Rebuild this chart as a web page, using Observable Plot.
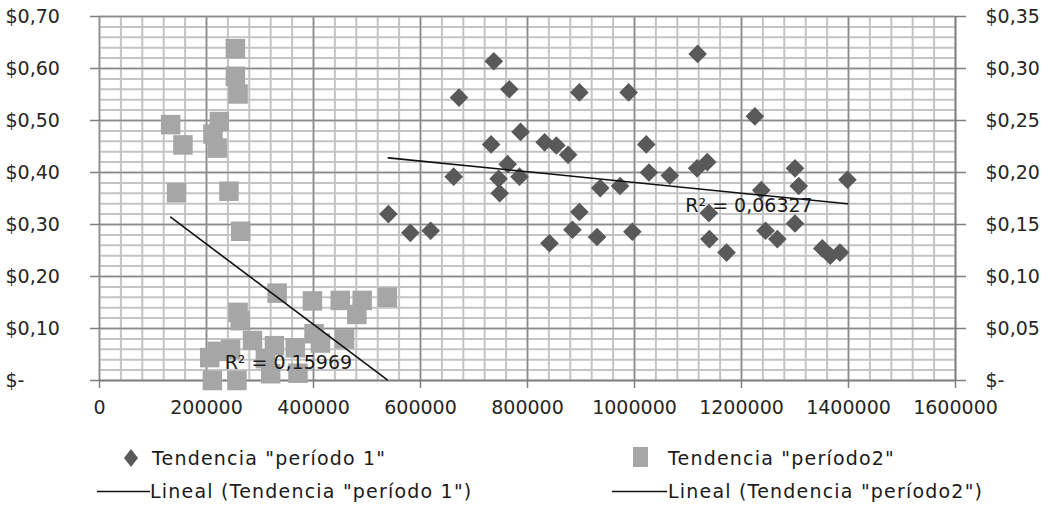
<!DOCTYPE html>
<html><head><meta charset="utf-8">
<script src="https://cdn.jsdelivr.net/npm/d3@7"></script>
<script src="https://cdn.jsdelivr.net/npm/@observablehq/plot@0.6"></script>
<style>
body{margin:0;background:#fff;font-family:"DejaVu Sans",sans-serif;}
#chart{position:relative;width:1055px;height:507px;overflow:hidden;}
.leg{position:absolute;font-size:19px;letter-spacing:1.2px;color:#1a1a1a;white-space:nowrap;line-height:20px;}
.sw{position:absolute;line-height:0;}
.sw svg{display:block;}
</style></head><body><div id="chart"></div>
<script>
// ---- data ----
// Series 1 "período 1" (diamonds, plotted against the right/secondary axis)
const p1X = [540000,581000,619000,662000,672000,737000,732000,746000,748000,763000,766000,785000,787000,832000,841000,854000,876000,884000,897000,897000,930000,936000,973000,989000,996000,1022000,1027000,1066000,1117000,1136000,1118000,1139000,1140000,1172000,1225000,1237000,1245000,1267000,1300000,1307000,1300000,1351000,1366000,1384000,1398000];
const p1Y = [0.160,0.142,0.144,0.196,0.272,0.307,0.227,0.194,0.180,0.208,0.280,0.196,0.239,0.229,0.132,0.226,0.217,0.145,0.162,0.277,0.138,0.185,0.187,0.277,0.143,0.227,0.200,0.197,0.204,0.210,0.314,0.161,0.136,0.123,0.254,0.183,0.144,0.136,0.204,0.187,0.151,0.127,0.120,0.123,0.193];
// Series 2 "período2" (squares, plotted against the left/primary axis)
const p2X = [254000,254000,259000,133000,156000,224000,212000,220000,144000,242000,264000,332000,398000,450000,491000,538000,481000,259000,263000,401000,413000,458000,220000,245000,286000,327000,366000,211000,257000,320000,371000,310000,206000];
const p2Y = [0.638,0.585,0.551,0.492,0.453,0.498,0.474,0.447,0.361,0.364,0.287,0.168,0.153,0.154,0.154,0.160,0.127,0.131,0.115,0.090,0.072,0.080,0.056,0.060,0.077,0.067,0.063,0,0,0.013,0.014,0.042,0.044];
// Linear trend lines (endpoints)
const trend1X = [540000,1398000];
const trend1Y = [0.2141,0.1699];   // right-axis units
const trend2X = [133000,538000];
const trend2Y = [0.314,0.0013];    // left-axis units
// R² annotations
const r2Text = ["R² = 0,06327","R² = 0,15969"];
const r2X = [1214000,353000];
const r2Y = [0.3356,0.0337];       // left-axis units
// ticks
const xTicks = [0,200000,400000,600000,800000,1000000,1200000,1400000,1600000];
const xTickLabels = ["0","200000","400000","600000","800000","1000000","1200000","1400000","1600000"];
const yTicks = [0,0.1,0.2,0.3,0.4,0.5,0.6,0.7];
const leftTickLabels = ["$-","$0,10","$0,20","$0,30","$0,40","$0,50","$0,60","$0,70"];
const rightTickLabels = ["$-","$0,05","$0,10","$0,15","$0,20","$0,25","$0,30","$0,35"];
const legendLabels = ['Tendencia "período 1"','Tendencia "período2"','Lineal (Tendencia "período 1")','Lineal (Tendencia "período2")'];

// ---- build tables ----
const s1 = p1X.map((x,i)=>({x, y:p1Y[i]}));
const s2 = p2X.map((x,i)=>({x, y:p2Y[i]}));
const t1 = trend1X.map((x,i)=>({x, y:trend1Y[i]}));
const t2 = trend2X.map((x,i)=>({x, y:trend2Y[i]}));
const r2 = r2Text.map((t,i)=>({t, x:r2X[i], y:r2Y[i]}));
const xLab = new Map(xTicks.map((d,i)=>[d,xTickLabels[i]]));
const lLab = new Map(yTicks.map((d,i)=>[d,leftTickLabels[i]]));
const rLab = new Map(yTicks.map((d,i)=>[d,rightTickLabels[i]]));
const xMinor = d3.range(0,1600001,40000);
const yMinor = d3.range(0,36).map(i=>i*0.02);
const RATIO = 2; // secondary axis max 0.35 vs primary 0.70

const minor = "#c4c4c4", major = "#8c8c8c", axisC = "#7f7f7f";

const chart = Plot.plot({
  width:1055, height:430,
  marginLeft:99, marginRight:100, marginTop:16, marginBottom:50,
  x:{domain:[0,1600000]},
  y:{domain:[0,0.7]},
  style:{fontFamily:"DejaVu Sans, sans-serif", fontSize:"19px", color:"#262626", background:"white", overflow:"visible"},
  marks:[
    Plot.gridX(xMinor,{stroke:minor, strokeWidth:2, strokeOpacity:1}),
    Plot.gridY(yMinor,{stroke:minor, strokeWidth:2, strokeOpacity:1}),
    Plot.gridX(xTicks,{stroke:major, strokeWidth:1.5, strokeOpacity:1}),
    Plot.gridY(yTicks,{stroke:major, strokeWidth:1.5, strokeOpacity:1}),
    Plot.ruleY([0],{stroke:axisC, strokeWidth:1.5}),
    Plot.ruleX([1600000],{stroke:axisC, strokeWidth:1.5}),
    Plot.axisX({ticks:xTicks, tickFormat:d=>xLab.get(d), tickSize:8, tickPadding:12, stroke:axisC, strokeWidth:1.5, fill:"#262626", label:null}),
    Plot.axisY({anchor:"left", ticks:yTicks, tickFormat:d=>lLab.get(d), tickSize:9, tickPadding:85, textAnchor:"start", stroke:axisC, strokeWidth:1.5, fill:"#262626", label:null}),
    Plot.axisY({anchor:"right", ticks:yTicks, tickFormat:d=>rLab.get(d), tickSize:10, tickPadding:20, stroke:axisC, strokeWidth:1.5, fill:"#262626", label:null}),
    Plot.dot(s2,{x:"x", y:"y", symbol:"square", r:11, fill:"#a6a6a6"}),
    Plot.dot(s1,{x:"x", y:d=>d.y*RATIO, symbol:"diamond2", r:8.4, fill:"#595959"}),
    Plot.line(t1,{x:"x", y:d=>d.y*RATIO, stroke:"#111", strokeWidth:1.6}),
    Plot.line(t2,{x:"x", y:"y", stroke:"#111", strokeWidth:1.6}),
    Plot.text(r2,{x:"x", y:"y", text:"t", fontSize:19, fill:"#1a1a1a"})
  ]
});
const root = document.getElementById("chart");
chart.style.position = "absolute"; chart.style.left = "0"; chart.style.top = "0";
root.appendChild(chart);

// ---- legend (below the SVG) ----
function addText(txt, left, top){
  const d = document.createElement("div"); d.className = "leg";
  d.style.left = left+"px"; d.style.top = top+"px"; d.textContent = txt; root.appendChild(d);
}
function addSwatch(html, left, top, w, h){
  const d = document.createElement("div"); d.className = "sw";
  d.style.left = left+"px"; d.style.top = top+"px";
  d.innerHTML = `<svg width="${w}" height="${h}">${html}</svg>`; root.appendChild(d);
}
addSwatch('<polygon points="7,0 14,9 7,18 0,9" fill="#595959"/>', 124, 449, 14, 18);
addText(legendLabels[0], 152, 448);
addSwatch('<rect x="0" y="0" width="15" height="20" fill="#a6a6a6"/>', 633, 447, 15, 20);
addText(legendLabels[1], 668, 448);
addSwatch('<line x1="0" y1="1.5" x2="53" y2="1.5" stroke="#111" stroke-width="1.6"/>', 97, 490, 53, 3);
addText(legendLabels[2], 150, 481);
addSwatch('<line x1="0" y1="1.5" x2="55" y2="1.5" stroke="#111" stroke-width="1.6"/>', 612, 490, 55, 3);
addText(legendLabels[3], 668, 481);
</script>
</body></html>
